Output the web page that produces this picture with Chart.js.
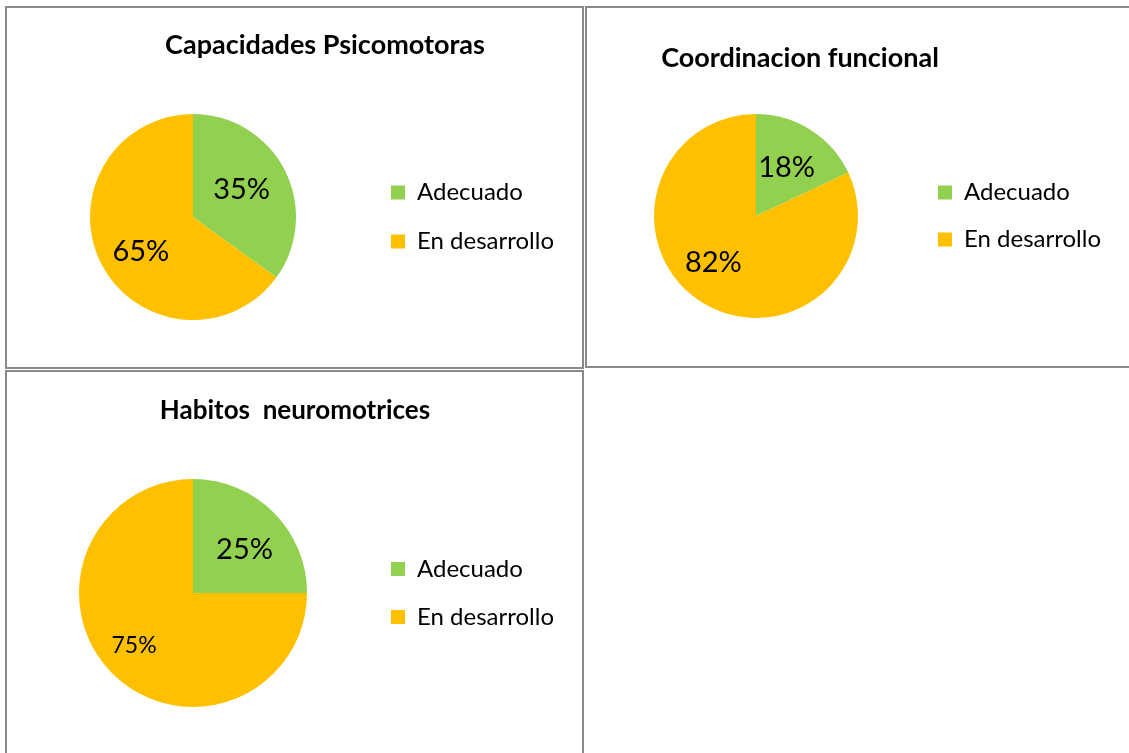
<!DOCTYPE html>
<html>
<head>
<meta charset="utf-8">
<script src="https://cdn.jsdelivr.net/npm/chart.js@4.4.1/dist/chart.umd.min.js"></script>
<style>
  html, body { margin: 0; padding: 0; background: #ffffff; }
  body { width: 1129px; height: 753px; position: relative; overflow: hidden; }
  .box { position: absolute; border: 2px solid #8a8a8a; box-sizing: border-box; }
  .cv { position: absolute; }
</style>
</head>
<body>
<div class="box" style="left:5px; top:6px; width:579px; height:363px;"></div>
<div class="box" style="left:585px; top:6px; width:560px; height:362px;"></div>
<div class="box" style="left:5px; top:370px; width:579px; height:400px;"></div>

<div class="cv" style="left:6px; top:8px; width:577px; height:359px;"><canvas id="c1"></canvas></div>
<div class="cv" style="left:587px; top:8px; width:542px; height:359px;"><canvas id="c2"></canvas></div>
<div class="cv" style="left:6px; top:372px; width:577px; height:381px;"><canvas id="c3"></canvas></div>

<script>
// ---- data ----
const categories = ["Adecuado", "En desarrollo"];
const titles = ["Capacidades Psicomotoras", "Coordinacion funcional", "Habitos  neuromotrices"];
const capacidadesValues = [35, 65];
const coordinacionValues = [18, 82];
const habitosValues = [25, 75];
const sliceColors = ["#92D050", "#FFC000"];

const FONT = "Lato, 'Open Sans', sans-serif";
const LEGEND_SIZE = 24;
const BOX = 14;

// shift the title horizontally after layout
const titleShiftPlugin = {
  id: 'titleShift',
  afterLayout(chart, args, opts) {
    const t = chart.titleBlock;
    if (t && opts && opts.dx) { t.left += opts.dx; t.right += opts.dx; }
  }
};

// percentage labels inside slices
const sliceLabelPlugin = {
  id: 'sliceLabels',
  afterDatasetsDraw(chart, args, opts) {
    const ctx = chart.ctx;
    const meta = chart.getDatasetMeta(0);
    const data = chart.data.datasets[0].data;
    const total = data.reduce((a, b) => a + b, 0);
    meta.data.forEach((arc, i) => {
      const p = arc.getProps(['x', 'y', 'startAngle', 'endAngle', 'outerRadius'], true);
      const mid = (p.startAngle + p.endAngle) / 2 + (opts.angleOffsets[i] || 0) * Math.PI / 180;
      const r = p.outerRadius * opts.fractions[i];
      const x = p.x + Math.cos(mid) * r;
      const y = p.y + Math.sin(mid) * r;
      ctx.save();
      ctx.fillStyle = '#000000';
      ctx.font = opts.sizes[i] + 'px ' + FONT;
      ctx.textAlign = 'center';
      ctx.textBaseline = 'middle';
      ctx.fillText(Math.round(data[i] / total * 100) + '%', x, y);
      ctx.restore();
    });
  }
};

const measureCtx = document.createElement('canvas').getContext('2d');
function legendNaturalWidth(pad) {
  measureCtx.font = LEGEND_SIZE + 'px ' + FONT;
  const tw = Math.max(...categories.map(c => measureCtx.measureText(c).width));
  return pad + BOX + LEGEND_SIZE / 2 + tw + 10;
}

// g: page-space geometry of the frame (canvas box, pie, legend, title)
function makePie(id, title, values, g) {
  const legendLeft = g.legendBoxX - g.legendPad;
  const a = g.pieCx - (legendLeft - g.pieCx);
  const b = legendLeft + legendNaturalWidth(g.legendPad);
  const lineH = g.titleSize * 1.2;
  const tTop = g.titleCy - g.oy - lineH / 2;
  const tBottom = (g.pieCy - g.r) - g.oy - tTop - lineH;
  const padding = {
    left: a - g.ox,
    right: g.ox + g.w - b,
    top: 0,
    bottom: g.oy + g.h - (g.pieCy + g.r)
  };
  const dx = g.titleCx - (a + b) / 2;

  return new Chart(document.getElementById(id), {
    type: 'pie',
    data: {
      labels: categories,
      datasets: [{
        data: values,
        backgroundColor: sliceColors,
        borderWidth: 0,
        hoverOffset: 0
      }]
    },
    options: {
      responsive: true,
      maintainAspectRatio: false,
      animation: false,
      events: [],
      layout: { padding: padding },
      plugins: {
        title: {
          display: true,
          text: title,
          color: '#000000',
          font: { family: FONT, size: g.titleSize, weight: 'bold', lineHeight: 1.2 },
          padding: { top: tTop, bottom: tBottom }
        },
        legend: {
          display: true,
          position: 'right',
          fullSize: false,
          labels: {
            color: '#000000',
            font: { family: FONT, size: LEGEND_SIZE },
            boxWidth: BOX,
            boxHeight: BOX,
            padding: g.legendPad
          }
        },
        tooltip: { enabled: false },
        titleShift: { dx: dx },
        sliceLabels: g.labels
      }
    },
    plugins: [titleShiftPlugin, sliceLabelPlugin]
  });
}

makePie('c1', titles[0], capacidadesValues, {
  ox: 6, oy: 8, w: 577, h: 359,
  pieCx: 193, pieCy: 217, r: 103,
  legendBoxX: 391, legendPad: 25,
  titleCx: 325, titleCy: 45, titleSize: 27,
  labels: { fractions: [0.54, 0.61], angleOffsets: [-2, -7], sizes: [29, 29] }
});

makePie('c2', titles[1], coordinacionValues, {
  ox: 587, oy: 8, w: 542, h: 359,
  pieCx: 756, pieCy: 216, r: 102,
  legendBoxX: 938, legendPad: 23,
  titleCx: 800, titleCy: 58, titleSize: 27,
  labels: { fractions: [0.56, 0.62], angleOffsets: [0, 10], sizes: [29, 29] }
});

makePie('c3', titles[2], habitosValues, {
  ox: 6, oy: 372, w: 577, h: 381,
  pieCx: 193, pieCy: 593, r: 114,
  legendBoxX: 391, legendPad: 24,
  titleCx: 295, titleCy: 411, titleSize: 26,
  labels: { fractions: [0.59, 0.69], angleOffsets: [5, 3.5], sizes: [29, 23] }
});
</script>
</body>
</html>
